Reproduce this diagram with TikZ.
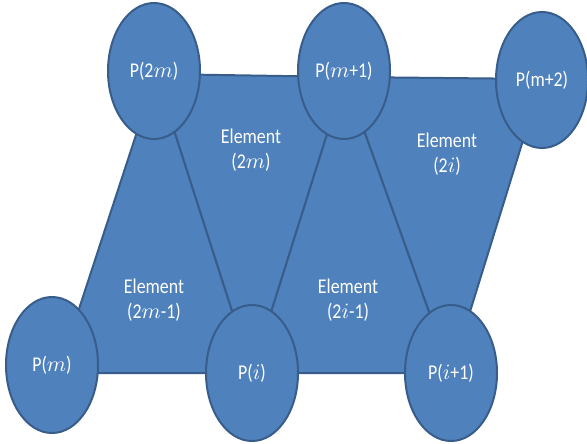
\documentclass[tikz,border=0pt]{standalone}
\usepackage{fontspec}
\setmainfont{Carlito}[FakeStretch=0.85]
\usetikzlibrary{shapes.geometric}
\definecolor{meshblue}{HTML}{4F81BD}
\definecolor{meshline}{HTML}{385D8A}

\begin{document}
\begin{tikzpicture}[x=0.5pt, y=-0.5pt,
    element/.style={fill=meshblue, draw=meshline, line width=1pt, line join=round},
    point/.style={ellipse, fill=meshblue, draw=meshline, line width=1pt,
        minimum width=46pt, minimum height=68pt, inner sep=0pt,
        text=white, font=\fontsize{10.5}{12}\selectfont},
    elemtext/.style={text=white, align=center, font=\fontsize{10.5}{12.5}\selectfont}]
    \useasboundingbox (0,0) rectangle (587,443);

    % Triangle corners
    \coordinate (c2m) at (156,74);
    \coordinate (cm1) at (345,77);
    \coordinate (cm2) at (542,79);
    \coordinate (cm)  at (58,373);
    \coordinate (ci)  at (252,373);
    \coordinate (ci1) at (451,373);

    % Elements
    \draw[element] (c2m) -- (ci) -- (cm) -- cycle;
    \draw[element] (c2m) -- (cm1) -- (ci) -- cycle;
    \draw[element] (cm1) -- (ci1) -- (ci) -- cycle;
    \draw[element] (cm1) -- (cm2) -- (ci1) -- cycle;

    \node[elemtext] (e2m)  at (251,150) {Element\\(2$m$)};
    \node[elemtext] (e2i)  at (447,154) {Element\\(2$i$)};
    \node[elemtext] (e2m1) at (154,300) {Element\\(2$m$-1)};
    \node[elemtext] (e2i1) at (348,300) {Element\\(2$i$-1)};

    % Points
    \node[point] (p2m) at (154,71)  {P(2$m$)};
    \node[point] (pm1) at (344,71)  {P($m$+1)};
    \node[point] (pm2) at (542,80)  {P(m+2)};
    \node[point] (pm)  at (52,365)  {P($m$)};
    \node[point] (pi)  at (252,373) {P($i$)};
    \node[point] (pi1) at (451,373) {P($i$+1)};
\end{tikzpicture}
\end{document}
